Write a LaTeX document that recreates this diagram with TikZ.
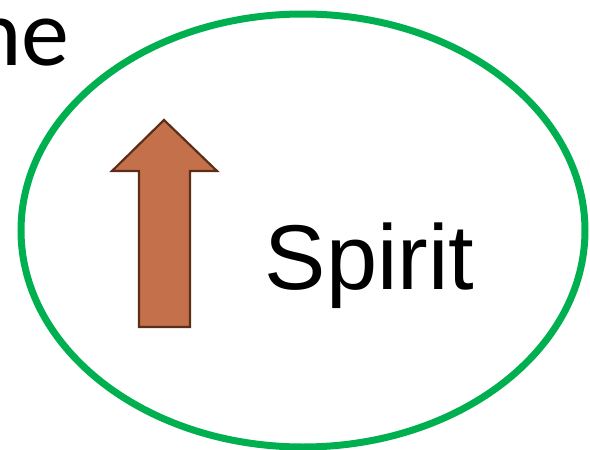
\documentclass[tikz,border=0pt]{standalone}
\usepackage{fontspec}
\setmainfont{Liberation Sans}
\newfontfamily\calfont{Carlito}
\definecolor{ringgreen}{HTML}{00B050}
\definecolor{arrowfill}{HTML}{C4714B}
\definecolor{arrowline}{HTML}{5A2E18}
\tikzset{
  ring/.style={draw=ringgreen, line width=7pt},
  uparrow/.style={fill=arrowfill, draw=arrowline, line width=2.2pt, line join=miter},
  bigtext/.style={inner sep=0pt, font=\fontsize{92}{92}\selectfont}
}
\begin{document}
\begin{tikzpicture}[x=1pt,y=-1pt]
\useasboundingbox (0,0) rectangle (590,450);
\draw[ring] (303,230.5) ellipse [x radius=282, y radius=216.5];
\draw[uparrow] (164,120) -- (217,171) -- (190,171) -- (190,327) -- (139,327) -- (139,171) -- (112,171) -- cycle;
\node[bigtext, anchor=base] (spirit) at (369.5,289) {Spirit};
\node[inner sep=0pt, anchor=base east, font=\calfont\fontsize{96}{96}\selectfont] (ne) at (70,65) {ne};
\end{tikzpicture}
\end{document}
